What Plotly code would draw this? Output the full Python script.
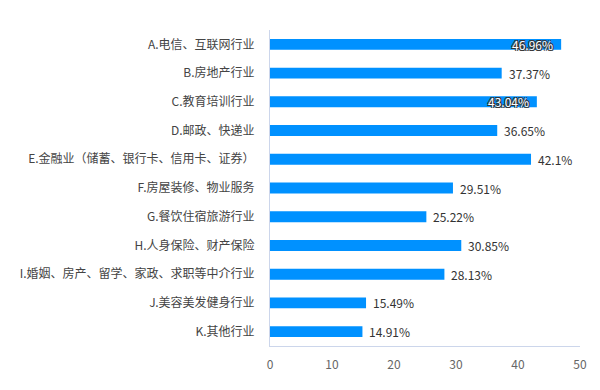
import plotly.graph_objects as go

categories = [
    "A.电信、互联网行业",
    "B.房地产行业",
    "C.教育培训行业",
    "D.邮政、快递业",
    "E.金融业（储蓄、银行卡、信用卡、证券）",
    "F.房屋装修、物业服务",
    "G.餐饮住宿旅游行业",
    "H.人身保险、财产保险",
    "I.婚姻、房产、留学、家政、求职等中介行业",
    "J.美容美发健身行业",
    "K.其他行业",
]
values = [46.96, 37.37, 43.04, 36.65, 42.1, 29.51, 25.22, 30.85, 28.13, 15.49, 14.91]
inside_labels = ["A.电信、互联网行业", "C.教育培训行业"]
x_ticks = [0, 10, 20, 30, 40, 50]

FONT = "Noto Sans CJK SC, Microsoft YaHei, sans-serif"
BAR_COLOR = "#0091ff"
AXIS_COLOR = "#ccd6eb"

fig = go.Figure()
fig.add_trace(go.Bar(
    x=values, y=categories, orientation="h",
    marker=dict(color=BAR_COLOR, line=dict(width=0)),
    hoverinfo="skip",
))

annotations = []
for c, v in zip(categories, values):
    label = f"{v}%"
    if c in inside_labels:
        annotations.append(dict(
            x=v, y=c, xref="x", yref="y", text=label, showarrow=False,
            xanchor="right", xshift=-6,
            font=dict(family=FONT, size=12, color="#ffffff",
                      shadow="-1px -1px 0 #333, 1px -1px 0 #333, -1px 1px 0 #333, 1px 1px 0 #333"),
        ))
    else:
        annotations.append(dict(
            x=v, y=c, xref="x", yref="y", text=label, showarrow=False,
            xanchor="left", xshift=5,
            font=dict(family=FONT, size=12, color="#333333"),
        ))

fig.update_layout(
    width=600, height=390,
    margin=dict(l=262, r=28, t=22, b=52),
    paper_bgcolor="white", plot_bgcolor="white",
    bargap=0.62,
    showlegend=False,
    font=dict(family=FONT, size=12, color="#333333"),
    annotations=annotations,
    xaxis=dict(
        range=[0, 50], tickvals=x_ticks, ticktext=[str(t) for t in x_ticks],
        showgrid=False, zeroline=False, showline=True, linecolor=AXIS_COLOR, linewidth=1,
        ticks="", ticklabelstandoff=8, automargin=False,
        tickfont=dict(family=FONT, size=12, color="#666666"),
        fixedrange=True,
    ),
    yaxis=dict(
        autorange="reversed", showgrid=False, zeroline=False,
        showline=True, linecolor=AXIS_COLOR, linewidth=1,
        ticks="", ticklabelstandoff=12, automargin=False,
        tickfont=dict(family=FONT, size=12, color="#444444"),
        fixedrange=True,
    ),
)

fig.write_html("out.html")
